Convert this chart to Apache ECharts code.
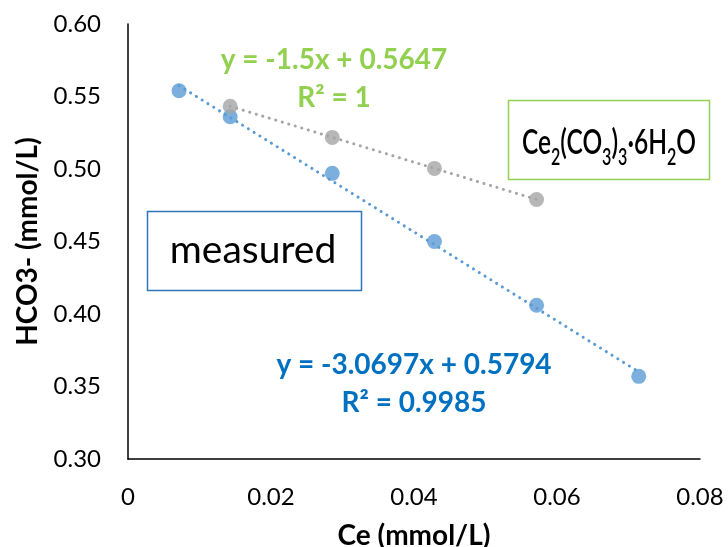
<!DOCTYPE html>
<html>
<head>
<meta charset="utf-8">
<script src="https://cdn.jsdelivr.net/npm/echarts@6/dist/echarts.min.js"></script>
<style>
  html, body { margin: 0; padding: 0; background: #fff; }
  #chart { width: 728px; height: 547px; }
</style>
</head>
<body>
<div id="chart"></div>
<script>
// Ce concentration (mmol/L) and bicarbonate (mmol/L)
const ceMeasured = [0.00714, 0.01429, 0.02857, 0.04286, 0.05714, 0.07143];
const hco3Measured = [0.554, 0.536, 0.497, 0.450, 0.406, 0.357];

const ceHydrate = [0.01429, 0.02857, 0.04286, 0.05714];
const hco3Hydrate = [0.5433, 0.5218, 0.5004, 0.4790];

// Linear fits (slope, intercept) as reported on the chart
const fitMeasured = [-3.0697, 0.5794];
const fitHydrate = [-1.5, 0.5647];

const xTicks = ['0', '0.02', '0.04', '0.06', '0.08'];
const yTicks = ['0.30', '0.35', '0.40', '0.45', '0.50', '0.55', '0.60'];

const BLUE = '#5b9bd5';
const GRAY = '#a5a5a5';
const FONT = 'Lato, "Open Sans", sans-serif';

function pairs(xs, ys) { return xs.map((x, i) => [x, ys[i]]); }
function trend(xs, fit) {
  const lo = Math.min(...xs), hi = Math.max(...xs);
  return [[lo, fit[0] * lo + fit[1]], [hi, fit[0] * hi + fit[1]]];
}

const dotted = (color) => ({ color: color, width: 3, type: [0.1, 6.7], cap: 'round' });

const chart = echarts.init(document.getElementById('chart'));
chart.setOption({
  animation: false,
  backgroundColor: '#fff',
  grid: { left: 128, right: 28, top: 24, bottom: 88, containLabel: false, outerBoundsMode: 'none' },
  xAxis: {
    type: 'value', min: 0, max: 0.08, interval: 0.02,
    name: 'Ce (mmol/L)', nameLocation: 'middle', nameGap: 63,
    nameTextStyle: { fontFamily: FONT, fontWeight: 'bold', fontSize: 28, color: '#000' },
    axisLine: { lineStyle: { color: '#000', width: 1.5 } },
    axisTick: { show: false },
    splitLine: { show: false },
    axisLabel: {
      fontFamily: FONT, fontSize: 24, color: '#000', margin: 26,
      formatter: (v) => xTicks[Math.round(v / 0.02)]
    }
  },
  yAxis: {
    type: 'value', min: 0.30, max: 0.60, interval: 0.05,
    name: 'HCO3- (mmol/L)', nameLocation: 'middle', nameGap: 86, nameRotate: 90,
    nameTextStyle: { fontFamily: FONT, fontWeight: 'bold', fontSize: 28, color: '#000' },
    axisLine: { show: true, lineStyle: { color: '#000', width: 1.5 } },
    axisTick: { show: false },
    splitLine: { show: false },
    axisLabel: {
      fontFamily: FONT, fontSize: 24, color: '#000', margin: 27,
      formatter: (v) => yTicks[Math.round((v - 0.30) / 0.05)]
    }
  },
  series: [
    {
      type: 'line', data: trend(ceMeasured, fitMeasured), showSymbol: false,
      lineStyle: dotted(BLUE), z: 1, silent: true
    },
    {
      type: 'line', data: trend(ceHydrate, fitHydrate), showSymbol: false,
      lineStyle: dotted(GRAY), z: 1, silent: true
    },
    {
      type: 'scatter', data: pairs(ceMeasured, hco3Measured),
      symbolSize: 15, itemStyle: { color: BLUE }, z: 3
    },
    {
      type: 'scatter', data: pairs(ceHydrate, hco3Hydrate),
      symbolSize: 15, itemStyle: { color: GRAY }, z: 4
    }
  ],
  graphic: [
    {
      type: 'text', z: 10, x: 334, y: 79,
      style: {
        text: 'y = -1.5x + 0.5647\nR² = 1', fill: '#92d050',
        font: 'bold 28px ' + FONT, align: 'center', verticalAlign: 'middle', lineHeight: 38
      }
    },
    {
      type: 'text', z: 10, x: 414, y: 384,
      style: {
        text: 'y = -3.0697x + 0.5794\nR² = 0.9985', fill: '#0070c0',
        font: 'bold 28px ' + FONT, align: 'center', verticalAlign: 'middle', lineHeight: 38
      }
    },
    {
      type: 'rect', z: 10,
      shape: { x: 508.5, y: 100.5, width: 201, height: 79 },
      style: { fill: '#fff', stroke: '#92d050', lineWidth: 1.5 }
    },
    {
      type: 'text', z: 11, x: 609, y: 138, scaleX: 0.7,
      style: {
        text: '{n|Ce}{s|2}{n|(CO}{s|3}{n|)}{s|3}{n|·6H}{s|2}{n|O}',
        align: 'center', verticalAlign: 'middle',
        rich: {
          n: { fontFamily: FONT, fontSize: 35, fontWeight: 600, fill: '#000', verticalAlign: 'bottom', lineHeight: 44 },
          s: { fontFamily: FONT, fontSize: 23, fontWeight: 600, fill: '#000', verticalAlign: 'bottom', lineHeight: 30, padding: [0, 0, -9, 0] }
        }
      }
    },
    {
      type: 'rect', z: 10,
      shape: { x: 147.5, y: 211.5, width: 214, height: 79 },
      style: { fill: '#fff', stroke: '#2e75b6', lineWidth: 1.5 }
    },
    {
      type: 'text', z: 11, x: 253, y: 250,
      style: {
        text: 'measured', fill: '#000', font: '39px ' + FONT,
        align: 'center', verticalAlign: 'middle'
      }
    }
  ]
});
</script>
</body>
</html>
